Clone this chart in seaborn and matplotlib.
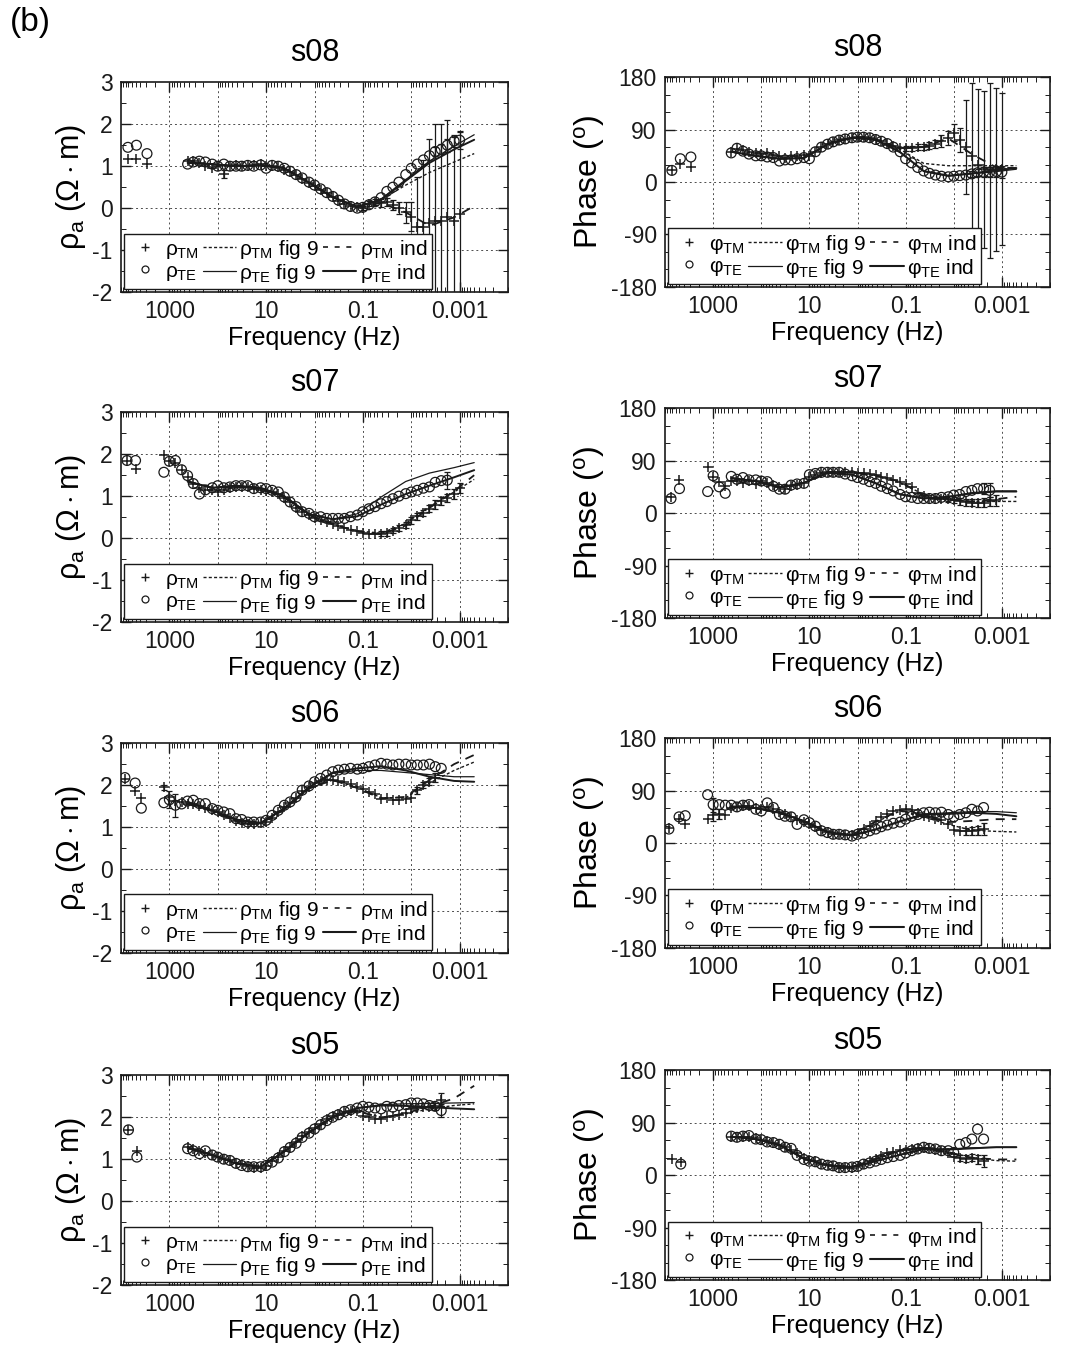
import numpy as np
import matplotlib
matplotlib.use("Agg")
import matplotlib.pyplot as plt
import seaborn as sns
from matplotlib.lines import Line2D
from matplotlib.ticker import FixedLocator, FixedFormatter, NullFormatter, MultipleLocator, LogLocator

nan = np.nan

# ---------------- data ----------------
F = [1300, 1000, 750, 560, 420, 320, 240, 180, 130, 100, 75, 56, 42, 32, 24, 18, 13,
     10, 7.5, 5.6, 4.2, 3.2, 2.4, 1.8, 1.3, 1.0, 0.75, 0.56, 0.42, 0.32, 0.24, 0.18, 0.13,
     0.10, 0.075, 0.056, 0.042, 0.032, 0.024, 0.018, 0.013, 0.010, 0.0075, 0.0056, 0.0042,
     0.0032, 0.0024, 0.0018, 0.0013, 0.0010]
MF = [420, 130, 42, 13, 4.2, 1.3, 0.42, 0.13, 0.042, 0.013, 0.0042, 0.0013, 0.0005]
stations = ["s08", "s07", "s06", "s05"]

# ---- s08
s08_hf_f = [7200, 4800, 2900]
s08_hf_rho_te = [1.45, 1.5, 1.3]
s08_hf_rho_tm = [1.17, 1.17, 1.05]
s08_hf_phs_te = [20, 40, 43]
s08_hf_phs_tm = [20, 31, 26]
s08_rho_te = [nan, nan, nan, nan,
              1.05, 1.1, 1.12, 1.1, 1.05,
              1.0, 1.05, 1.0, 1.0, 1.0, 1.02, 1.0, 1.03,
              0.95, 1.02, 1.0, 0.95, 0.88, 0.8, 0.72, 0.62,
              0.55, 0.46, 0.37, 0.28, 0.19, 0.1, 0.04, 0.0,
              0.02, 0.08, 0.15, 0.25, 0.4, 0.5, 0.62, 0.8,
              0.95, 1.05, 1.15, 1.25, 1.35, 1.4, 1.5, 1.6,
              1.62]
s08_rho_tm = [nan, nan, nan, nan,
              1.12, 1.12, 1.08, 1.0, 0.95,
              1.0, 0.82, 1.0, 1.02, 1.0, 1.0, 1.02, 1.05,
              1.0, 1.0, 0.98, 0.92, 0.86, 0.78, 0.7, 0.6,
              0.52, 0.44, 0.35, 0.26, 0.18, 0.1, 0.05, 0.03,
              0.0, 0.1, 0.15, 0.13, 0.15, 0.08, 0.0, -0.1,
              -0.2, -0.45, -0.45, -0.35, -0.3, -0.3, -0.2, -0.3,
              -0.15]
s08_phs_te = [nan, nan, nan, nan,
              50, 58, 53, 48, 45,
              45, 43, 42, 36, 38, 38, 40, 42,
              40, 52, 60, 65, 69, 72, 74, 76,
              77, 77, 76, 73, 70, 66, 60, 52,
              40, 33, 25, 19, 15, 12, 10, 9,
              10, 11, 12, 14, 16, 17, 17, 18,
              17]
s08_phs_tm = [nan, nan, nan, nan,
              52, 57, 55, 52, 50,
              48, 50, 47, 45, 42, 44, 45, 46,
              45, 52, 60, 65, 69, 72, 74, 76,
              77, 77, 76, 73, 70, 66, 62, 58,
              58, 58, 60, 60, 62, 65, 70, 75,
              85, 72, 60, 45, 30, 22, 20, 22,
              22]
s08_rho_tm_ef = [75, 0.1, 0.075, 0.056, 0.042, 0.032, 0.024, 0.018, 0.013, 0.010, 0.0075,
                 0.0056, 0.0042, 0.0032, 0.0024, 0.0018, 0.0013, 0.0010]
s08_rho_tm_e = [0.1, 0.05, 0.06, 0.08, 0.1, 0.1, 0.12, 0.15, 0.25, 0.35, 1.2,
                1.6, 2.0, 2.3, 2.3, 2.3, 2.0, 2.0]
s08_rho_te_ef = [0.0032, 0.0024, 0.0018, 0.0013, 0.0010]
s08_rho_te_e = [0.1, 0.12, 0.15, 0.15, 0.2]
s08_phs_tm_ef = [0.1, 0.075, 0.056, 0.042, 0.032, 0.024, 0.018, 0.013, 0.010, 0.0075,
                 0.0056, 0.0042, 0.0032, 0.0024, 0.0018, 0.0013, 0.0010]
s08_phs_tm_e = [4, 4, 5, 5, 6, 7, 10, 12, 15, 20, 80, 125, 130, 135, 150, 140, 130]
s08_phs_te_ef = [0.0042, 0.0032, 0.0024, 0.0018, 0.0013, 0.0010]
s08_phs_te_e = [5, 6, 8, 8, 10, 10]
s08_rho_tm_fig9 = [1.08, 1.05, 1.0, 1.02, 0.95, 0.6, 0.26, 0.05, 0.2, 0.55, 0.85, 1.1, 1.3]
s08_rho_te_fig9 = [1.08, 1.05, 1.0, 1.02, 0.96, 0.62, 0.27, 0.02, 0.22, 0.68, 1.12, 1.48, 1.75]
s08_rho_tm_ind = [1.08, 1.05, 1.0, 1.02, 0.95, 0.6, 0.26, 0.04, 0.12, -0.1, -0.42, -0.22, 0.05]
s08_rho_te_ind = [1.08, 1.05, 1.0, 1.02, 0.95, 0.61, 0.26, 0.03, 0.2, 0.65, 1.08, 1.4, 1.63]
s08_phs_tm_fig9 = [52, 45, 40, 41, 65, 76, 73, 56, 32, 28, 28, 28, 28]
s08_phs_te_fig9 = [52, 45, 40, 41, 65, 76, 73, 52, 18, 10, 14, 18, 22]
s08_phs_tm_ind = [52, 45, 40, 41, 65, 76, 73, 58, 60, 75, 48, 25, 24]
s08_phs_te_ind = [52, 45, 40, 41, 65, 76, 73, 51, 19, 11, 15, 20, 24]

# ---- s07
s07_hf_f = [7500, 5000]
s07_hf_rho_te = [1.85, 1.85]
s07_hf_rho_tm = [1.85, 1.65]
s07_hf_phs_te = [25, 42]
s07_hf_phs_tm = [27, 57]
s07_rho_te = [1.57, 1.83, 1.85, 1.63,
              1.49, 1.3, 1.05, 1.15, 1.2,
              1.25, 1.2, 1.22, 1.25, 1.25, 1.25, 1.18, 1.2,
              1.18, 1.14, 1.1, 0.98, 0.86, 0.75, 0.63, 0.59,
              0.51, 0.51, 0.47, 0.47, 0.47, 0.47, 0.51, 0.55,
              0.63, 0.7, 0.75, 0.82, 0.87, 0.94, 1.0, 1.06,
              1.1, 1.14, 1.19, 1.22, 1.33, 1.37, 1.38, nan,
              nan]
s07_rho_tm = [1.98, 1.85, 1.8, 1.63,
              1.45, 1.3, 1.2, 1.15, 1.15,
              1.1, 1.15, 1.2, 1.22, 1.22, 1.22, 1.18, 1.15,
              1.12, 1.1, 1.05, 0.95, 0.85, 0.72, 0.62, 0.55,
              0.48, 0.42, 0.38, 0.33, 0.3, 0.25, 0.2, 0.17,
              0.12, 0.1, 0.09, 0.1, 0.12, 0.18, 0.25, 0.32,
              0.42, 0.52, 0.6, 0.7, 0.8, 0.88, 0.96, 1.05,
              1.2]
s07_phs_te = [37, 64, 45, 34,
              63, 58, 61, 57, 57,
              55, 54, 46, 41, 41, 48, 50, 51,
              66, 68, 70, 70, 70, 70, 67, 64,
              61, 58, 54, 51, 46, 42, 38, 32,
              28, 27, 25, 25, 25, 25, 27, 28,
              31, 32, 37, 39, 42, 42, 39, nan,
              nan]
s07_phs_tm = [79, 62, 54, 46,
              55, 55, 52, 55, 50,
              55, 52, 48, 44, 42, 46, 49, 52,
              62, 66, 68, 70, 71, 71, 70, 70,
              69, 68, 67, 65, 62, 60, 56, 54,
              50, 44, 35, 30, 26, 25, 25, 24,
              22, 20, 19, 18, 17, 18, 20, 22,
              nan]
s07_rho_tm_ef = [0.042, 0.032, 0.024, 0.018, 0.013, 0.010, 0.0075, 0.0056, 0.0042,
                 0.0032, 0.0024, 0.0018, 0.0013, 0.0010]
s07_rho_tm_e = [0.06, 0.06, 0.06, 0.07, 0.07, 0.08, 0.08, 0.08, 0.08, 0.1, 0.1, 0.1, 0.12, 0.12]
s07_rho_te_ef = [0.0018]
s07_rho_te_e = [0.2]
s07_phs_tm_ef = [0.013, 0.010, 0.0075, 0.0056, 0.0042, 0.0032, 0.0024, 0.0018, 0.0013]
s07_phs_tm_e = [5, 5, 6, 6, 6, 7, 8, 8, 9]
s07_phs_te_ef = [0.0024, 0.0018]
s07_phs_te_e = [10, 12]
s07_rho_tm_fig9 = [1.35, 1.2, 1.23, 1.18, 0.97, 0.55, 0.33, 0.17, 0.12, 0.35, 0.75, 1.1, 1.4]
s07_rho_te_fig9 = [1.35, 1.2, 1.25, 1.2, 1.0, 0.58, 0.45, 0.58, 0.98, 1.35, 1.55, 1.68, 1.8]
s07_rho_tm_ind = [1.35, 1.2, 1.23, 1.18, 0.97, 0.55, 0.33, 0.16, 0.1, 0.3, 0.72, 1.12, 1.5]
s07_rho_te_ind = [1.35, 1.2, 1.25, 1.2, 1.0, 0.57, 0.45, 0.52, 0.8, 1.05, 1.25, 1.45, 1.62]
s07_phs_tm_fig9 = [60, 55, 44, 52, 70, 70, 64, 52, 32, 24, 20, 20, 20]
s07_phs_te_fig9 = [60, 55, 44, 52, 69, 66, 52, 33, 25, 28, 35, 38, 38]
s07_phs_tm_ind = [60, 55, 44, 52, 70, 70, 65, 54, 30, 23, 20, 24, 28]
s07_phs_te_ind = [60, 55, 44, 52, 69, 66, 51, 32, 25, 28, 34, 37, 37]

# ---- s06
s06_hf_f = [8300, 5100, 3800]
s06_hf_rho_te = [2.18, 2.05, 1.45]
s06_hf_rho_tm = [2.15, 1.85, 1.7]
s06_hf_phs_te = [24, 45, 47]
s06_hf_phs_tm = [25, 42, 33]
s06_rho_te = [1.58, 1.65, 1.52, 1.55,
              1.62, 1.64, 1.56, 1.56, 1.44,
              1.4, 1.36, 1.32, 1.2, 1.18, 1.12, 1.12, 1.12,
              1.16, 1.28, 1.4, 1.52, 1.6, 1.72, 1.88, 1.98,
              2.08, 2.16, 2.24, 2.32, 2.36, 2.38, 2.4, 2.38,
              2.4, 2.44, 2.48, 2.52, 2.5, 2.48, 2.5, 2.5,
              2.48, 2.48, 2.48, 2.5, 2.44, 2.4, nan, nan,
              nan]
s06_rho_tm = [1.95, 1.72, 1.62, 1.6,
              1.55, 1.55, 1.5, 1.45, 1.4,
              1.35, 1.28, 1.22, 1.15, 1.1, 1.08, 1.08, 1.1,
              1.12, 1.22, 1.35, 1.48, 1.58, 1.7, 1.85, 1.95,
              2.05, 2.1, 2.12, 2.12, 2.1, 2.08, 2.02, 1.95,
              1.9, 1.84, 1.78, 1.68, 1.7, 1.64, 1.65, 1.68,
              1.7, 1.88, 2.0, 2.08, 2.18, nan, nan, nan,
              nan]
s06_phs_te = [83, 66, 66, 65,
              65, 62, 65, 66, 58,
              55, 69, 61, 49, 46, 45, 32, 40,
              35, 29, 21, 18, 15, 15, 14, 12,
              15, 17, 21, 24, 28, 31, 34, 36,
              41, 46, 49, 52, 53, 52, 53, 49,
              45, 49, 52, 58, 55, 61, nan, nan,
              nan]
s06_phs_tm = [41, 48, 50, 48,
              60, 62, 63, 64, 60,
              59, 62, 58, 54, 50, 45, 40, 36,
              32, 28, 22, 19, 16, 15, 14, 14,
              18, 24, 30, 38, 44, 50, 55, 56,
              58, 57, 52, 46, 44, 42, 40, 32,
              22, 20, 20, 20, 22, 24, nan, nan,
              nan]
s06_rho_te_ef = [1000, 750]
s06_rho_te_e = [0.2, 0.28]
s06_rho_tm_ef = [1300, 0.0075, 0.0056, 0.0042, 0.0032]
s06_rho_tm_e = [0.06, 0.08, 0.08, 0.08, 0.1]
s06_phs_te_ef = [1000]
s06_phs_te_e = [12]
s06_phs_tm_ef = [1000, 750, 0.0056, 0.0042, 0.0032, 0.0024]
s06_phs_tm_e = [10, 8, 6, 7, 8, 10]
s06_rho_tm_fig9 = [1.55, 1.38, 1.15, 1.08, 1.42, 1.92, 2.12, 1.95, 1.7, 1.7, 2.05, 2.35, 2.55]
s06_rho_te_fig9 = [1.6, 1.4, 1.18, 1.1, 1.45, 1.95, 2.28, 2.35, 2.35, 2.3, 2.25, 2.2, 2.2]
s06_rho_tm_ind = [1.55, 1.38, 1.15, 1.08, 1.42, 1.92, 2.12, 1.93, 1.68, 1.72, 2.12, 2.5, 2.72]
s06_rho_te_ind = [1.6, 1.4, 1.18, 1.1, 1.45, 1.95, 2.3, 2.4, 2.45, 2.35, 2.2, 2.1, 2.08]
s06_phs_tm_fig9 = [62, 60, 52, 37, 19, 14, 36, 55, 45, 32, 22, 20, 19]
s06_phs_te_fig9 = [63, 60, 52, 38, 19, 13, 24, 38, 50, 52, 54, 54, 52]
s06_phs_tm_ind = [62, 60, 52, 37, 19, 14, 37, 56, 47, 36, 38, 41, 41]
s06_phs_te_ind = [63, 60, 52, 38, 19, 13, 23, 37, 49, 50, 52, 50, 46]

# ---- s05
s05_hf_f = [7000, 4700]
s05_hf_rho_te = [1.7, 1.05]
s05_hf_rho_tm = [1.7, 1.2]
s05_hf_phs_te = [nan, 19]
s05_hf_phs_tm = [28, 22]
s05_rho_te = [nan, nan, nan, nan,
              1.25, 1.2, 1.13, 1.2, 1.1,
              1.05, 1.0, 0.97, 0.9, 0.85, 0.82, 0.82, 0.82,
              0.85, 0.93, 1.03, 1.18, 1.28, 1.38, 1.52, 1.62,
              1.72, 1.82, 1.92, 2.0, 2.06, 2.14, 2.18, 2.22,
              2.26, 2.24, 2.22, 2.2, 2.26, 2.24, 2.28, 2.3,
              2.34, 2.34, 2.32, 2.28, 2.26, 2.16, nan, nan,
              nan]
s05_rho_tm = [nan, nan, nan, nan,
              1.3, 1.25, 1.2, 1.15, 1.1,
              1.05, 1.0, 0.97, 0.92, 0.88, 0.83, 0.8, 0.8,
              0.83, 0.95, 1.05, 1.2, 1.3, 1.42, 1.55, 1.65,
              1.75, 1.85, 1.95, 2.02, 2.08, 2.12, 2.15, 2.15,
              2.02, 2.0, 1.97, 1.97, 2.0, 2.02, 2.05, 2.1,
              2.2, 2.22, 2.24, 2.25, 2.26, 2.42, nan, nan,
              nan]
s05_phs_te = [nan, nan, nan, nan,
              67, 65, 67, 68, 62,
              61, 57, 56, 53, 48, 46, 34, 27,
              24, 23, 19, 17, 16, 13, 13, 14,
              15, 19, 21, 24, 27, 30, 32, 34,
              38, 42, 45, 48, 46, 45, 42, 42,
              39, 53, 56, 62, 79, 62, nan, nan,
              nan]
s05_phs_tm = [nan, nan, nan, nan,
              65, 65, 66, 66, 63,
              60, 58, 55, 52, 48, 44, 38, 30,
              26, 24, 20, 17, 15, 13, 12, 13,
              15, 20, 24, 28, 33, 38, 40, 43,
              44, 45, 46, 47, 46, 44, 42, 38,
              32, 30, 28, 30, 27, 24, nan, nan,
              nan]
s05_rho_te_ef = [0.0024]
s05_rho_te_e = [0.15]
s05_rho_tm_ef = [0.0032, 0.0024]
s05_rho_tm_e = [0.08, 0.15]
s05_phs_te_ef = []
s05_phs_te_e = []
s05_phs_tm_ef = [0.0075, 0.0056, 0.0042, 0.0032, 0.0024]
s05_phs_tm_e = [5, 6, 6, 8, 10]
s05_rho_tm_fig9 = [1.27, 1.1, 0.9, 0.82, 1.2, 1.65, 2.02, 2.15, 2.0, 2.08, 2.2, 2.28, 2.32]
s05_rho_te_fig9 = [1.27, 1.1, 0.9, 0.82, 1.18, 1.63, 2.0, 2.22, 2.3, 2.32, 2.33, 2.34, 2.35]
s05_rho_tm_ind = [1.27, 1.1, 0.9, 0.82, 1.2, 1.65, 2.02, 2.15, 1.98, 2.1, 2.25, 2.45, 2.75]
s05_rho_te_ind = [1.27, 1.1, 0.9, 0.82, 1.18, 1.63, 2.0, 2.22, 2.28, 2.27, 2.24, 2.21, 2.19]
s05_phs_tm_fig9 = [66, 62, 52, 29, 17, 14, 27, 42, 46, 40, 30, 25, 24]
s05_phs_te_fig9 = [66, 62, 52, 28, 17, 14, 24, 35, 45, 45, 47, 48, 48]
s05_phs_tm_ind = [66, 62, 52, 29, 17, 14, 28, 43, 47, 38, 30, 27, 27]
s05_phs_te_ind = [66, 62, 52, 28, 17, 14, 24, 35, 45, 44, 46, 48, 48]

# ---------------- style ----------------
sns.set_theme(style="ticks")
plt.rcParams["font.family"] = ["Liberation Sans", "DejaVu Sans"]
plt.rcParams["mathtext.fontset"] = "custom"
for k in ("rm", "it", "bf", "sf"):
    plt.rcParams["mathtext." + k] = "Liberation Sans"
plt.rcParams["axes.unicode_minus"] = False
plt.rcParams["axes.linewidth"] = 1.2
for k in ("text.color", "axes.labelcolor", "xtick.color", "ytick.color",
          "xtick.labelcolor", "ytick.labelcolor", "axes.edgecolor"):
    plt.rcParams[k] = "black"

G = globals()
fig = plt.figure(figsize=(10.66, 13.49), dpi=100)
fig.text(0.009, 0.995, "(b)", fontsize=24, va="top", ha="left")

left_x, left_w = 121 / 1066, 387 / 1066
right_x, right_w = 665 / 1066, 385 / 1066
rho_bottoms = [0.7835, 0.5389, 0.2936, 0.0474]
phs_bottoms = [0.7873, 0.5419, 0.2973, 0.0511]
H = 0.1555

grid_kw = dict(color="0.3", lw=0.7, ls=(0, (2, 3)), zorder=0.5)


def style_axes(ax, kind):
    ax.set_xscale("log")
    ax.set_xlim(1e4, 1e-4)
    ax.xaxis.set_major_locator(FixedLocator([1e3, 1e1, 1e-1, 1e-3]))
    ax.xaxis.set_major_formatter(FixedFormatter(["1000", "10", "0.1", "0.001"]))
    ax.xaxis.set_minor_locator(LogLocator(base=10, subs=np.arange(1, 10), numticks=100))
    ax.xaxis.set_minor_formatter(NullFormatter())
    for d in [1e3, 1e2, 1e1, 1e0, 1e-1, 1e-2, 1e-3]:
        ax.axvline(d, **grid_kw)
    if kind == "rho":
        ax.set_ylim(-2, 3)
        ax.set_yticks([-2, -1, 0, 1, 2, 3])
        ax.yaxis.set_minor_locator(MultipleLocator(0.5))
        for y in [-1, 0, 1, 2]:
            ax.axhline(y, **grid_kw)
        ax.set_ylabel(r"$\rho_{\rm a}$ ($\Omega\cdot$m)", fontsize=22, labelpad=3)
    else:
        ax.set_ylim(-180, 180)
        ax.set_yticks([-180, -90, 0, 90, 180])
        ax.yaxis.set_minor_locator(MultipleLocator(30))
        for y in [-90, 0, 90]:
            ax.axhline(y, **grid_kw)
        ax.set_ylabel(r"Phase ($^{\rm o}$)", fontsize=23, labelpad=3)
    ax.tick_params(which="both", direction="in", top=True, right=True, colors="k")
    ax.tick_params(which="major", length=7, width=1.0, labelsize=16.5, pad=6)
    ax.tick_params(which="minor", length=3.5, width=0.7)
    ax.set_xlabel("Frequency (Hz)", fontsize=18, labelpad=2)
    for s in ax.spines.values():
        s.set_color("k")
        s.set_linewidth(1.2)


def draw_errors(ax, ef, e, vals):
    Fa = np.array(F, dtype=float)
    va = np.array(vals, dtype=float)
    xs, ys, es = [], [], []
    for f, err in zip(ef, e):
        i = int(np.argmin(np.abs(np.log10(Fa) - np.log10(f))))
        if not np.isnan(va[i]):
            xs.append(Fa[i]); ys.append(va[i]); es.append(err)
    if xs:
        ax.errorbar(xs, ys, yerr=es, fmt="none", ecolor="k", elinewidth=0.9,
                    capsize=2.5, capthick=0.9, zorder=2)


def panel(ax, st, q):
    sym = r"\rho" if q == "rho" else r"\varphi"
    style_axes(ax, q)
    ax.set_title(st, fontsize=22, pad=15)
    # model curves
    sns.lineplot(x=MF, y=G[f"{st}_{q}_tm_fig9"], ax=ax, color="k", lw=1.0,
                 linestyle=(0, (2.2, 1.6)), estimator=None, sort=False, legend=False, zorder=3)
    sns.lineplot(x=MF, y=G[f"{st}_{q}_te_fig9"], ax=ax, color="k", lw=0.9,
                 linestyle="-", estimator=None, sort=False, legend=False, zorder=3)
    sns.lineplot(x=MF, y=G[f"{st}_{q}_tm_ind"], ax=ax, color="k", lw=1.3,
                 linestyle=(0, (5, 4)), estimator=None, sort=False, legend=False, zorder=3)
    sns.lineplot(x=MF, y=G[f"{st}_{q}_te_ind"], ax=ax, color="k", lw=1.4,
                 linestyle="-", estimator=None, sort=False, legend=False, zorder=3)
    # error bars
    draw_errors(ax, G[f"{st}_{q}_tm_ef"], G[f"{st}_{q}_tm_e"], G[f"{st}_{q}_tm"])
    draw_errors(ax, G[f"{st}_{q}_te_ef"], G[f"{st}_{q}_te_e"], G[f"{st}_{q}_te"])
    # data points
    xf = np.array(G[f"{st}_hf_f"] + F, dtype=float)
    y_te = np.array(G[f"{st}_hf_{q}_te"] + G[f"{st}_{q}_te"], dtype=float)
    y_tm = np.array(G[f"{st}_hf_{q}_tm"] + G[f"{st}_{q}_tm"], dtype=float)
    sns.scatterplot(x=xf, y=y_tm, ax=ax, marker="+", s=50, color="k", linewidth=1.1,
                    legend=False, zorder=4)
    sns.scatterplot(x=xf, y=y_te, ax=ax, marker="o", s=50, facecolor="none",
                    edgecolor="k", linewidth=0.9, legend=False, zorder=5)
    # legend
    handles = [Line2D([], [], marker="+", ls="none", color="k", ms=6, mew=1.0),
               Line2D([], [], marker="o", ls="none", mfc="none", mec="k", ms=5, mew=0.9),
               Line2D([], [], ls=(0, (2.2, 1.6)), color="k", lw=1.0),
               Line2D([], [], ls="-", color="k", lw=0.9),
               Line2D([], [], ls=(0, (3, 4)), color="k", lw=1.2),
               Line2D([], [], ls="-", color="k", lw=1.5)]
    labels = [rf"${sym}_{{\rm TM}}$", rf"${sym}_{{\rm TE}}$",
              rf"${sym}_{{\rm TM}}$ fig 9", rf"${sym}_{{\rm TE}}$ fig 9",
              rf"${sym}_{{\rm TM}}$ ind", rf"${sym}_{{\rm TE}}$ ind"]
    leg = ax.legend(handles, labels, loc="lower left", ncol=3, frameon=True, fancybox=False,
                    edgecolor="k", framealpha=1, fontsize=15, handlelength=1.6,
                    handletextpad=0.15, columnspacing=0.2, labelspacing=0.05,
                    borderpad=0.2, borderaxespad=0.15)
    leg.get_frame().set_linewidth(1.0)
    leg.set_zorder(10)


for r, st in enumerate(stations):
    axr = fig.add_axes([left_x, rho_bottoms[r], left_w, H])
    panel(axr, st, "rho")
    axp = fig.add_axes([right_x, phs_bottoms[r], right_w, H])
    panel(axp, st, "phs")

fig.savefig("out.png", dpi=100)
